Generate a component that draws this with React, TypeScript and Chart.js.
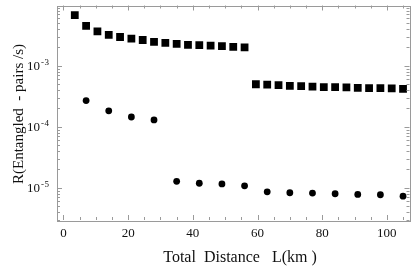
import React, { useEffect, useRef } from "react";
import { Chart, registerables } from "chart.js";

Chart.register(...registerables);

// Distances (km) and rates (entangled pairs / s)
const squareDistances = [3.5, 7, 10.5, 14, 17.5, 21, 24.5, 28, 31.5, 35, 38.5, 42, 45.5, 49, 52.5, 56,
  59.5, 63, 66.5, 70, 73.5, 77, 80.5, 84, 87.5, 91, 94.5, 98, 101.5, 105];
const squareRates = [6.8e-3, 4.5e-3, 3.67e-3, 3.23e-3, 2.97e-3, 2.79e-3, 2.65e-3, 2.47e-3, 2.38e-3, 2.29e-3,
  2.21e-3, 2.18e-3, 2.15e-3, 2.1e-3, 2.05e-3, 2.0e-3,
  4.99e-4, 4.94e-4, 4.81e-4, 4.69e-4, 4.64e-4, 4.58e-4, 4.47e-4, 4.47e-4, 4.42e-4, 4.35e-4, 4.3e-4, 4.3e-4, 4.26e-4, 4.2e-4];
const circleDistances = [7, 14, 21, 28, 35, 42, 49, 56, 63, 70, 77, 84, 91, 98, 105];
const circleRates = [2.69e-4, 1.83e-4, 1.45e-4, 1.3e-4, 1.28e-5, 1.19e-5, 1.16e-5, 1.08e-5,
  8.6e-6, 8.3e-6, 8.2e-6, 8.0e-6, 7.8e-6, 7.7e-6, 7.3e-6];

const xMajorTicks = [0, 20, 40, 60, 80, 100];
const xMinorStep = 5;
const yDecadeExponents = [-5, -4, -3];
const xTitle = "Total  Distance   L(km )";
const yTitle = "R(Entangled  - pairs /s)";

const FONT = '"Liberation Serif", "Times New Roman", serif';
const FRAME = "#9a9a9a";

const framePlugin = {
  id: "mmaFrame",
  afterDraw(chart: any) {
    const { ctx, chartArea: a, scales } = chart;
    const xs = scales.x;
    const ys = scales.y;
    ctx.save();
    ctx.strokeStyle = FRAME;
    ctx.lineWidth = 1;
    ctx.strokeRect(Math.round(a.left) + 0.5, Math.round(a.top) + 0.5, Math.round(a.right - a.left), Math.round(a.bottom - a.top));

    const line = (x1: number, y1: number, x2: number, y2: number) => {
      ctx.beginPath();
      ctx.moveTo(x1, y1);
      ctx.lineTo(x2, y2);
      ctx.stroke();
    };
    // x ticks
    for (let v = 0; v <= xs.max; v += xMinorStep) {
      const px = Math.round(xs.getPixelForValue(v)) + 0.5;
      const major = xMajorTicks.includes(v);
      const len = major ? 5 : 3;
      line(px, a.bottom, px, a.bottom - len);
      line(px, a.top, px, a.top + len);
    }
    // y ticks
    for (let e = -7; e <= -1; e++) {
      for (let k = 1; k <= 9; k++) {
        const v = k * Math.pow(10, e);
        if (v < ys.min || v > ys.max) continue;
        const py = Math.round(ys.getPixelForValue(v)) + 0.5;
        const len = k === 1 ? 5 : 3;
        line(a.left, py, a.left + len, py);
        line(a.right, py, a.right - len, py);
      }
    }
    // x labels
    ctx.fillStyle = "#111";
    ctx.font = `13px ${FONT}`;
    ctx.textAlign = "center";
    ctx.textBaseline = "alphabetic";
    for (const v of xMajorTicks) {
      ctx.fillText(String(v), xs.getPixelForValue(v), a.bottom + 17);
    }
    // y labels
    for (const e of yDecadeExponents) {
      const py = ys.getPixelForValue(Math.pow(10, e));
      ctx.font = `13px ${FONT}`;
      ctx.textAlign = "right";
      ctx.fillText("10", 40, py + 4.5);
      ctx.font = `9px ${FONT}`;
      ctx.textAlign = "left";
      ctx.fillText("-", 41, py - 1);
      ctx.fillText(String(Math.abs(e)), 44.5, py - 1);
    }
    // titles
    ctx.font = `16px ${FONT}`;
    ctx.textAlign = "center";
    ctx.fillText(xTitle, (158 + 322) / 2, 262);
    ctx.save();
    ctx.font = `15px ${FONT}`;
    ctx.translate(23, 114);
    ctx.rotate(-Math.PI / 2);
    ctx.fillText(yTitle, 0, 0);
    ctx.restore();
    ctx.restore();
  },
};

export default function App() {
  const ref = useRef<HTMLCanvasElement>(null);
  useEffect(() => {
    if (!ref.current) return;
    const chart = new Chart(ref.current, {
      type: "scatter",
      data: {
        datasets: [
          {
            data: squareDistances.map((x, i) => ({ x, y: squareRates[i] })),
            pointStyle: "rect",
            pointRadius: 5.5,
            backgroundColor: "#000",
            borderWidth: 0,
            showLine: false,
          },
          {
            data: circleDistances.map((x, i) => ({ x, y: circleRates[i] })),
            pointStyle: "circle",
            pointRadius: 3.4,
            backgroundColor: "#000",
            borderWidth: 0,
            showLine: false,
          },
        ],
      },
      options: {
        animation: false,
        responsive: false,
        devicePixelRatio: 1,
        layout: { padding: { left: 57, top: 2, right: 5, bottom: 46 } },
        plugins: { legend: { display: false }, tooltip: { enabled: false } },
        scales: {
          x: { type: "linear", min: -2, max: 107, display: false },
          y: { type: "logarithmic", min: 2.97e-6, max: 9.75e-3, display: false },
        },
      },
      plugins: [framePlugin],
    });
    return () => chart.destroy();
  }, []);
  return (
    <div style={{ position: "fixed", left: 0, top: 0, width: 415, height: 266, background: "#fff" }}>
      <canvas ref={ref} width={415} height={266} />
    </div>
  );
}
